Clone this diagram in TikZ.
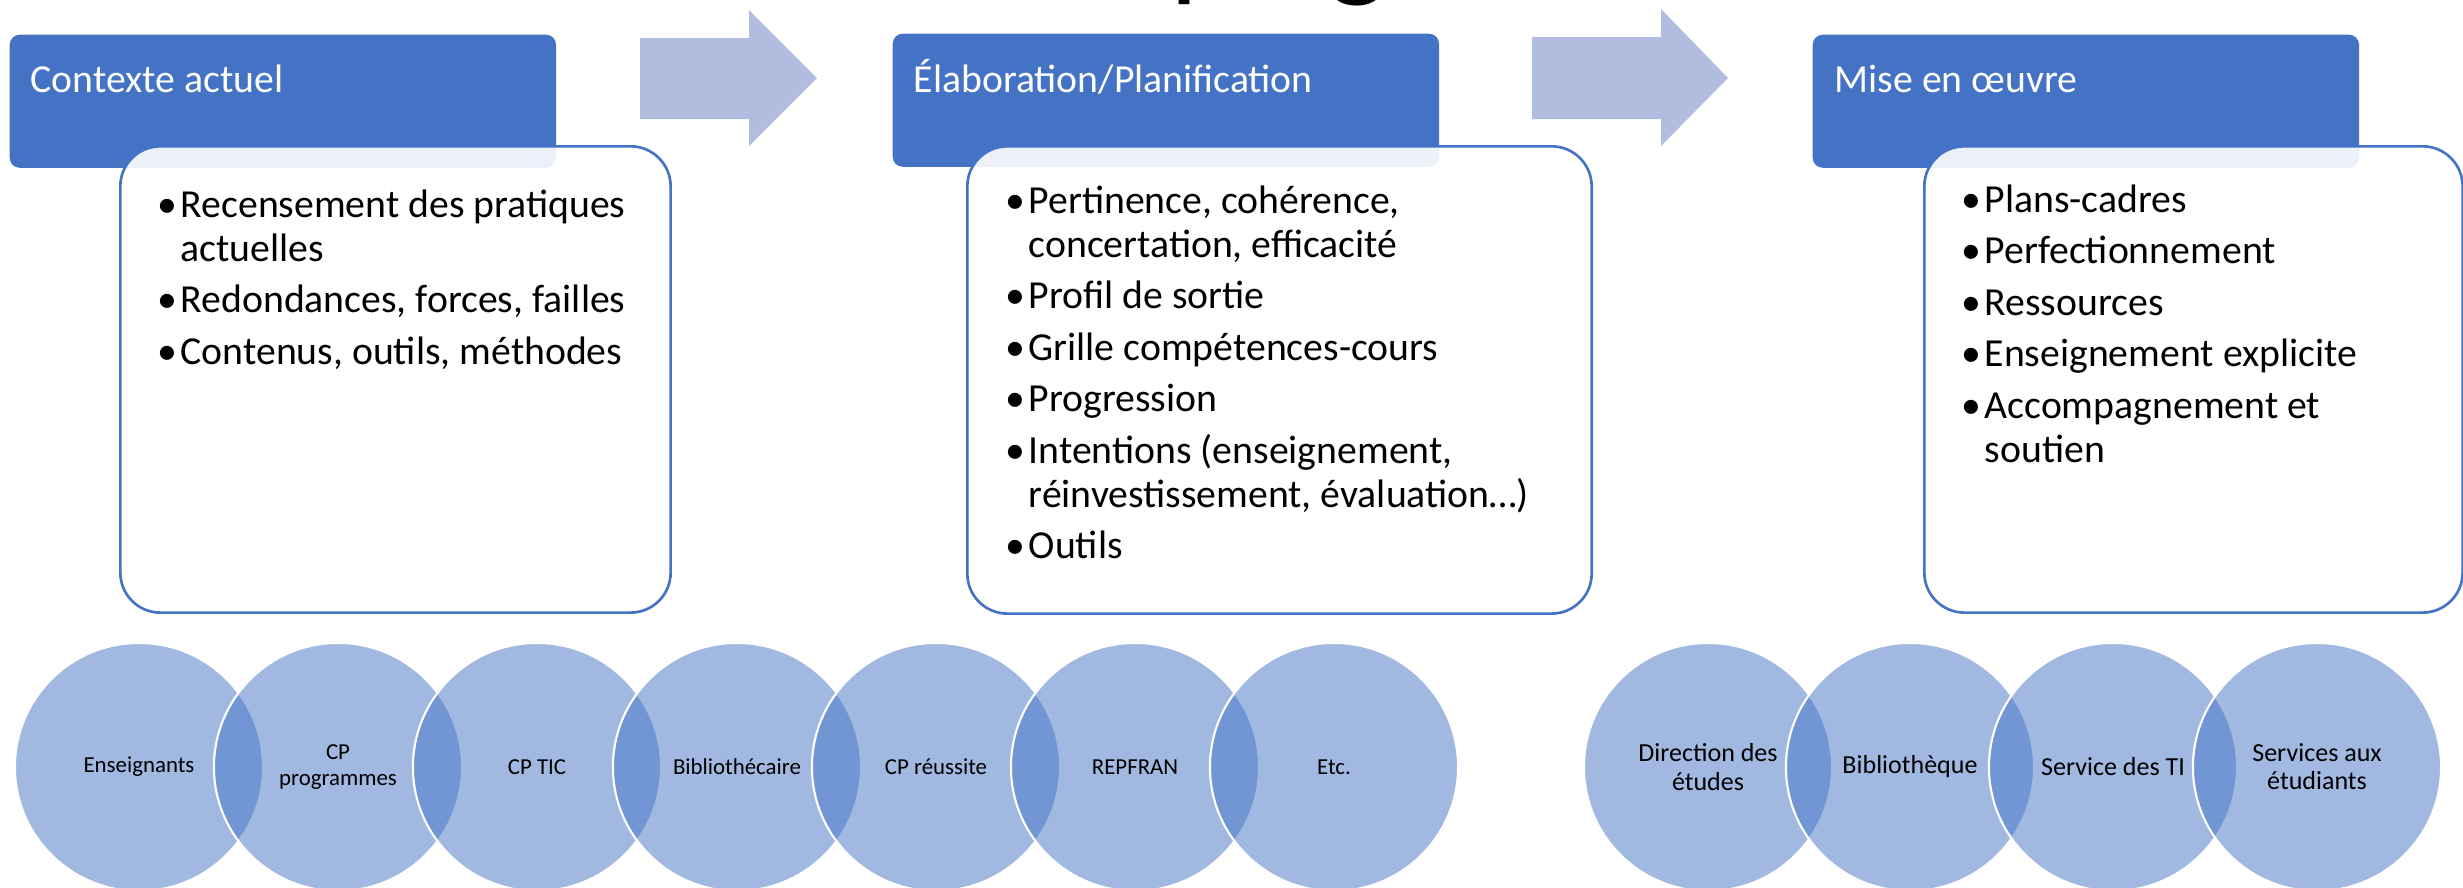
\documentclass[tikz,border=0pt]{standalone}
\usepackage{fontspec}
\setmainfont{Carlito}
\definecolor{accent}{HTML}{4472C4}
\definecolor{arrowfill}{RGB}{176,189,223}
\newcommand\bl{\makebox[0.23cm][l]{•}}
\begin{document}
\begin{tikzpicture}[x=0.01cm,y=-0.01cm,
  hdr/.style={fill=accent, draw=none, rounded corners=0.1cm, anchor=north west, inner sep=0pt, minimum width=5.46cm, minimum height=1.33cm},
  card/.style={draw=accent, line width=0.75pt, fill=white, fill opacity=0.9, text opacity=1, rounded corners=0.4cm, anchor=north west, inner sep=0pt},
  flowarrow/.style={fill=arrowfill, draw=none},
  hdrtext/.style={anchor=base west, inner sep=0pt, text=white, font=\fontsize{11.3}{13.6}\selectfont},
  bullets/.style={anchor=base west, inner sep=0pt, font=\fontsize{11.3}{12.52}\selectfont},
  venn/.style={circle, minimum size=2.48cm, inner sep=0pt, fill=accent, fill opacity=0.5, text opacity=1, draw=white, line width=0.6pt, font=\fontsize{6.5}{7.4}\selectfont, align=center},
  vennbig/.style={venn, font=\fontsize{7.4}{8}\selectfont},
  titlefrag/.style={anchor=base west, inner sep=0pt, font=\fontsize{35.6}{40}\selectfont},
]
\useasboundingbox (0,0) rectangle (2463,887);
\clip (0,0) rectangle (2463,887);

% title fragments (cut off at top)
\node (tp) [titlefrag] at (1170,-16) {p};
\node (tg) [titlefrag] at (1328,-16) {g};

% flow arrows
\fill[flowarrow] (640,38) -- (749,38) -- (749,10) -- (817,78) -- (749,146) -- (749,119) -- (640,119) -- cycle;
\fill[flowarrow] (1532,37) -- (1661,37) -- (1661,9) -- (1728,78) -- (1661,146) -- (1661,119) -- (1532,119) -- cycle;

% header boxes
\node (h1) [hdr] at (9,34) {};
\node (h2) [hdr] at (892,33) {};
\node (h3) [hdr] at (1812,34) {};
\node (h1t) [hdrtext] at (30,92) {Contexte actuel};
\node (h2t) [hdrtext] at (913,92) {Élaboration/Planification};
\node (h3t) [hdrtext] at (1834,92) {Mise en œuvre};

% content cards
\node (c1) [card, minimum width=5.50cm, minimum height=4.66cm] at (119,145) {};
\node (c2) [card, minimum width=6.24cm, minimum height=4.67cm] at (966,145) {};
\node (c3) [card, minimum width=5.38cm, minimum height=4.66cm] at (1923,145) {};

\node (l1) [bullets] at (157,217) {\begin{tabular}[t]{@{}l@{}l@{}}
\bl & Recensement des pratiques\\
 & actuelles\\[2.13pt]
\bl & Redondances, forces, failles\\[2.13pt]
\bl & Contenus, outils, méthodes
\end{tabular}};

\node (l2) [bullets] at (1005,213) {\begin{tabular}[t]{@{}l@{}l@{}}
\bl & Pertinence, cohérence,\\
 & concertation, efficacité\\[2.13pt]
\bl & Profil de sortie\\[2.13pt]
\bl & Grille compétences-cours\\[2.13pt]
\bl & Progression\\[2.13pt]
\bl & Intentions (enseignement,\\
 & réinvestissement, évaluation…)\\[2.13pt]
\bl & Outils
\end{tabular}};

\node (l3) [bullets] at (1961,212) {\begin{tabular}[t]{@{}l@{}l@{}}
\bl & Plans-cadres\\[2.13pt]
\bl & Perfectionnement\\[2.13pt]
\bl & Ressources\\[2.13pt]
\bl & Enseignement explicite\\[2.13pt]
\bl & Accompagnement et\\
 & soutien
\end{tabular}};

% partner circles, left group
\node (v1) [venn] at (139,767) {Enseignants};
\node (v2) [venn] at (338,767) {CP\\programmes};
\node (v3) [venn] at (537,767) {CP TIC};
\node (v4) [venn] at (737,767) {Bibliothécaire};
\node (v5) [venn] at (936,767) {CP réussite};
\node (v6) [venn] at (1135,767) {REPFRAN};
\node (v7) [venn] at (1334,767) {Etc.};

% partner circles, right group
\node (w1) [vennbig] at (1708,767) {Direction des\\études};
\node (w2) [vennbig] at (1910,767) {Bibliothèque};
\node (w3) [vennbig] at (2113,767) {Service des TI};
\node (w4) [vennbig] at (2317,767) {Services aux\\étudiants};
\end{tikzpicture}
\end{document}
